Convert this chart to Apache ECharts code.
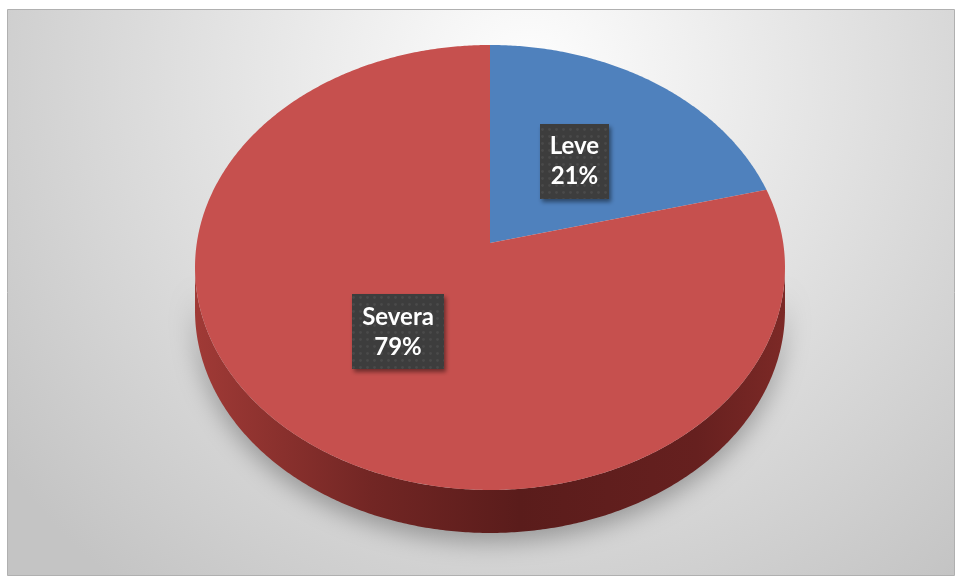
<!DOCTYPE html>
<html>
<head>
<meta charset="utf-8">
<script src="https://cdn.jsdelivr.net/npm/echarts@6/dist/echarts.min.js"></script>
<style>
  html, body { margin: 0; padding: 0; background: #ffffff; }
  #chart { width: 956px; height: 579px; }
</style>
</head>
<body>
<div id="chart"></div>
<script>
// Slices of the pie
const categories = ['Leve', 'Severa'];
const shares = [21, 79];
const sliceColors = ['#4f81bd', '#c6504e'];

const total = shares.reduce((a, b) => a + b, 0);
const startAngles = [];
(function () {
  let acc = 0;
  shares.forEach(v => { startAngles.push(acc / total * 2 * Math.PI); acc += v; });
})();

// Tilted disc seen with a little perspective (angles clockwise from 12 o'clock)
const CX = 490, CY = 243, RX = 293.2, RY = 219.8, K = 0.11, DEPTH = 43;
function proj(theta, r) {
  const u = r * Math.sin(theta), v = r * Math.cos(theta), w = 1 + K * v;
  return [CX + RX * u / w, CY - RY * v / w];
}
function arc(a, b, r, dy) {
  const pts = [];
  const n = Math.max(2, Math.ceil(Math.abs(b - a) / (Math.PI / 360)));
  for (let i = 0; i <= n; i++) {
    const t = a + (b - a) * i / n;
    const p = proj(t, r);
    pts.push([p[0], p[1] + (dy || 0)]);
  }
  return pts;
}
const FRONT_A = Math.acos(-K);
const FRONT_B = 2 * Math.PI - FRONT_A;

// Dotted texture for the label boxes
const tex = document.createElement('canvas');
tex.width = 7; tex.height = 7;
(function () {
  const g = tex.getContext('2d');
  g.fillStyle = '#3d3d3d'; g.fillRect(0, 0, 7, 7);
  g.fillStyle = '#4a4a4a'; g.beginPath(); g.arc(3.5, 3.5, 1.4, 0, 2 * Math.PI); g.fill();
})();

const LABEL_FONT = 'bold 24px Lato';
const measureCtx = document.createElement('canvas').getContext('2d');
measureCtx.font = LABEL_FONT;

function sliceRange(i) {
  const a = startAngles[i];
  return [a, a + shares[i] / total * 2 * Math.PI];
}

function renderSide(params, api) {
  const i = params.dataIndex;
  const [s, e] = sliceRange(i);
  const a = Math.max(s, FRONT_A), b = Math.min(e, FRONT_B);
  if (a >= b) return null;
  const pts = arc(a, b, 1, 0).concat(arc(b, a, 1, DEPTH));
  return {
    type: 'polygon',
    shape: { points: pts },
    style: {
      fill: {
        type: 'linear', x: 0, y: 0, x2: 1, y2: 0,
        colorStops: [
          { offset: 0, color: '#a03a36' },
          { offset: 0.3, color: '#722624' },
          { offset: 0.55, color: '#5a1c1b' },
          { offset: 0.85, color: '#66201f' },
          { offset: 1, color: '#7c2926' }
        ]
      },
      shadowBlur: 24,
      shadowOffsetY: 9,
      shadowColor: 'rgba(0,0,0,0.3)'
    }
  };
}

function renderTop(params, api) {
  const i = params.dataIndex;
  const [s, e] = sliceRange(i);
  const pts = [proj(0, 0)].concat(arc(s, e, 1, 0));
  const mid = (s + e) / 2;
  const lp = proj(mid, 0.49);
  const pct = Math.round(api.value(0) / total * 100) + '%';
  const lines = [categories[i], pct];
  const tw = Math.max.apply(null, lines.map(t => measureCtx.measureText(t).width));
  const bw = Math.round(tw + 20), bh = 75;
  return {
    type: 'group',
    children: [
      {
        type: 'polygon',
        shape: { points: pts },
        style: { fill: sliceColors[i] }
      },
      {
        type: 'rect',
        shape: { x: Math.round(lp[0] - bw / 2), y: Math.round(lp[1] - bh / 2), width: bw, height: bh },
        style: {
          fill: { image: tex, repeat: 'repeat' },
          shadowBlur: 4, shadowOffsetX: 2, shadowOffsetY: 3,
          shadowColor: 'rgba(0,0,0,0.45)'
        }
      },
      {
        type: 'text',
        x: lp[0], y: lp[1],
        style: {
          text: lines.join('\n'),
          fill: '#ffffff',
          font: LABEL_FONT,
          align: 'center',
          verticalAlign: 'middle',
          lineHeight: 30
        }
      }
    ]
  };
}

const chart = echarts.init(document.getElementById('chart'), null, { renderer: 'canvas' });
chart.setOption({
  animation: false,
  backgroundColor: '#ffffff',
  graphic: [{
    type: 'rect',
    z: -10,
    shape: { x: 7.5, y: 9.5, width: 947, height: 566 },
    style: {
      fill: {
        type: 'radial', x: 0.55, y: 0.12, r: 1.15,
        colorStops: [
          { offset: 0, color: '#fefefe' },
          { offset: 0.45, color: '#e4e4e4' },
          { offset: 1, color: '#c4c4c4' }
        ]
      },
      stroke: '#b0b0b0',
      lineWidth: 1
    }
  }],
  series: [
    {
      type: 'custom',
      name: 'side',
      coordinateSystem: 'none',
      z: 1,
      silent: true,
      data: shares,
      renderItem: renderSide
    },
    {
      type: 'custom',
      name: 'top',
      coordinateSystem: 'none',
      z: 2,
      silent: true,
      data: shares,
      renderItem: renderTop
    }
  ]
});
</script>
</body>
</html>
